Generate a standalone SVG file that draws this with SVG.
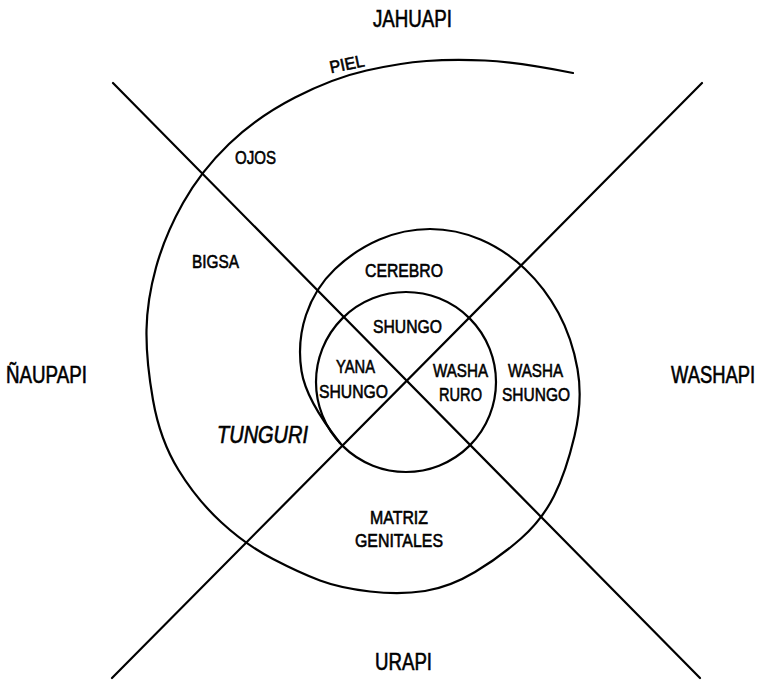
<svg xmlns="http://www.w3.org/2000/svg" width="762" height="680" viewBox="0 0 762 680">
<style>
.ln{fill:none;stroke:#000;stroke-width:2.2;stroke-linecap:round;stroke-linejoin:round}
.t{font-family:"Liberation Sans",Arial,sans-serif;fill:#000;stroke:#000;stroke-width:0.6}
.d{font-size:23px}
.s{font-size:19px}
.i{font-size:23px;font-style:italic}
</style>
<rect width="762" height="680" fill="#fff"/>
<g id="connectors">
<line class="ln" x1="113" y1="83" x2="700" y2="678"/>
<line class="ln" x1="702" y1="83" x2="112" y2="678"/>
</g>
<g id="spiral">
<path class="ln" d="M573,73 Q517,62 485,60.5 Q453,59 426.5,61 Q400,63 366.5,70.5 Q333,78 295,97.5 Q257,117 229,144 Q201,171 183,203 Q165,235 156,267.5 Q147,300 146.5,330 Q146,360 153,400 Q160,440 178.5,470 Q197,500 221.5,522.5 Q246,545 273,559 Q300,573 320,580.5 Q340,588 370,591.5 Q400,595 425,591 Q450,587 475,572 Q500,557 521,538.5 Q542,520 554,496 Q566,472 574.5,436 Q583,400 577.5,369 Q572,338 558.5,313 Q545,288 525,269 Q505,250 480.5,239.5 Q456,229 430,229 Q404,229 379.5,239.5 Q355,250 335,269 Q315,288 306,315 Q297,342 301.5,371 Q306,400 340,443"/>
</g>
<g id="inner-circle">
<circle class="ln" cx="406" cy="382" r="90"/>
</g>
<g id="jahuapi"><text class="t d" x="373" y="27" textLength="79" lengthAdjust="spacingAndGlyphs">JAHUAPI</text></g>
<g id="naupapi"><text class="t d" x="6" y="383" textLength="81" lengthAdjust="spacingAndGlyphs">ÑAUPAPI</text></g>
<g id="washapi"><text class="t d" transform="translate(671,383) scale(0.8,1)" x="0" y="0">WASHAPI</text></g>
<g id="urapi"><text class="t d" x="375" y="670" textLength="57" lengthAdjust="spacingAndGlyphs">URAPI</text></g>
<g id="piel"><text class="t" font-size="17" x="329" y="70" textLength="35" lengthAdjust="spacingAndGlyphs" transform="rotate(-12 346 62)">PIEL</text></g>
<g id="ojos"><text class="t s" x="235" y="164" textLength="41" lengthAdjust="spacingAndGlyphs">OJOS</text></g>
<g id="bigsa"><text class="t s" x="192" y="268" textLength="47" lengthAdjust="spacingAndGlyphs">BIGSA</text></g>
<g id="cerebro"><text class="t s" x="365" y="277" textLength="78" lengthAdjust="spacingAndGlyphs">CEREBRO</text></g>
<g id="shungo"><text class="t s" x="373" y="333" textLength="69" lengthAdjust="spacingAndGlyphs">SHUNGO</text></g>
<g id="yana-shungo">
<text class="t s" x="336" y="373" textLength="39" lengthAdjust="spacingAndGlyphs">YANA</text>
<text class="t s" x="319" y="398" textLength="69" lengthAdjust="spacingAndGlyphs">SHUNGO</text>
</g>
<g id="washa-ruro">
<text class="t s" x="433" y="377" textLength="55" lengthAdjust="spacingAndGlyphs">WASHA</text>
<text class="t s" x="439" y="401" textLength="43" lengthAdjust="spacingAndGlyphs">RURO</text>
</g>
<g id="washa-shungo">
<text class="t s" x="508" y="377" textLength="55" lengthAdjust="spacingAndGlyphs">WASHA</text>
<text class="t s" x="502" y="401" textLength="68" lengthAdjust="spacingAndGlyphs">SHUNGO</text>
</g>
<g id="tunguri"><text class="t i" x="217" y="443" textLength="91" lengthAdjust="spacingAndGlyphs">TUNGURI</text></g>
<g id="matriz-genitales">
<text class="t s" x="370" y="524" textLength="58" lengthAdjust="spacingAndGlyphs">MATRIZ</text>
<text class="t s" x="355" y="547" textLength="88" lengthAdjust="spacingAndGlyphs">GENITALES</text>
</g>
</svg>
